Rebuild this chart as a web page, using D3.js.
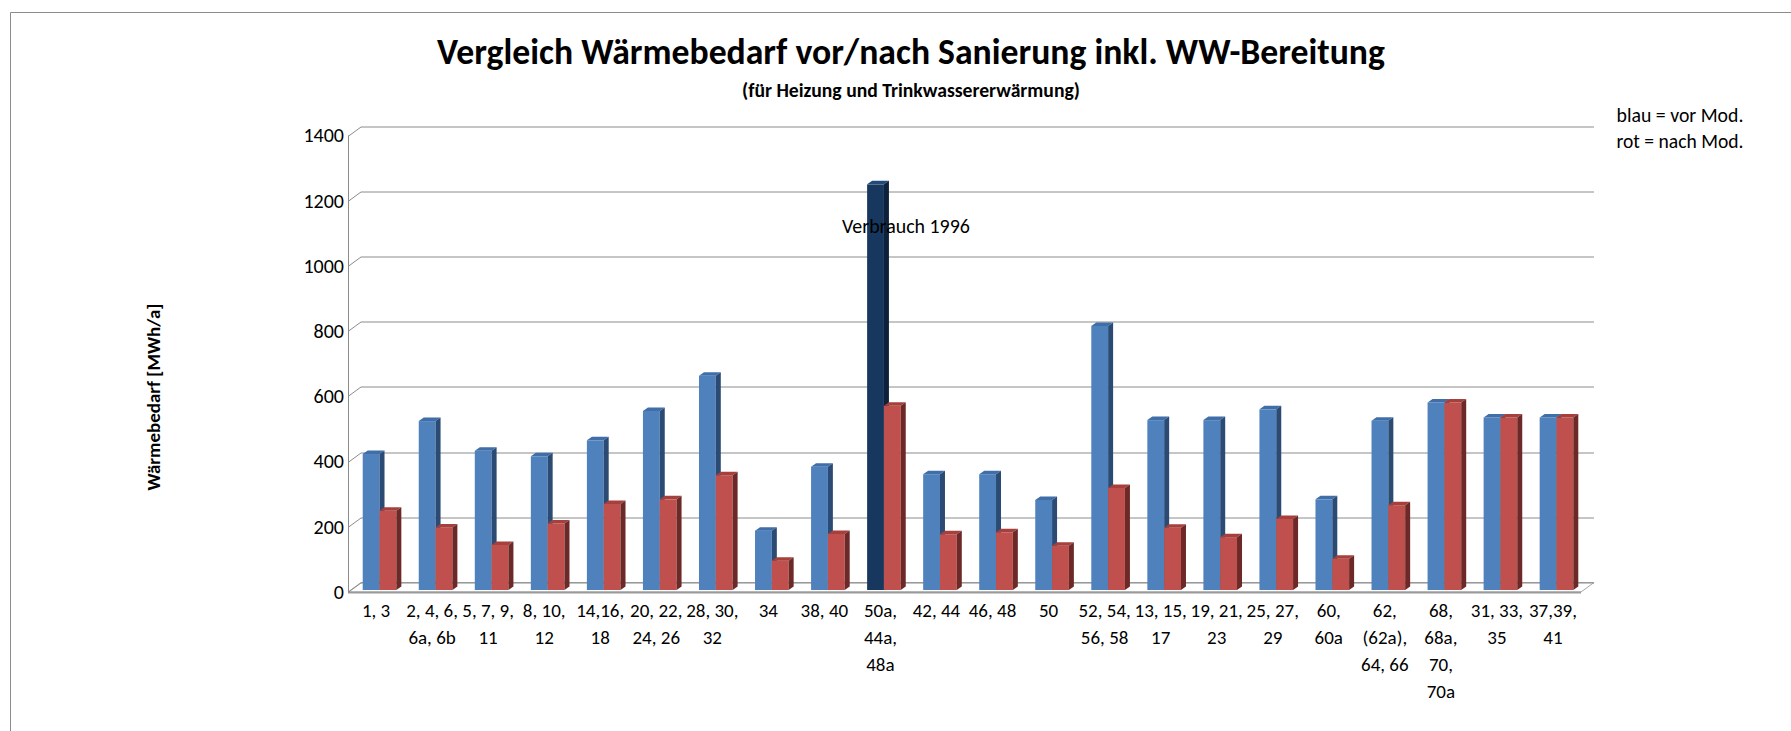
<!DOCTYPE html>
<html>
<head>
<meta charset="utf-8">
<script src="https://cdn.jsdelivr.net/npm/d3@7"></script>
<style>
  html, body { margin: 0; padding: 0; background: #fff; }
  svg { display: block; font-family: Carlito, Lato, sans-serif; }
</style>
</head>
<body>
<svg id="chart" width="1791" height="731"></svg>
<script>
// categories (line breaks as wrapped in the chart)
var categories = [
  "1, 3", "2, 4, 6,\n6a, 6b", "5, 7, 9,\n11", "8, 10,\n12", "14,16,\n18",
  "20, 22,\n24, 26", "28, 30,\n32", "34", "38, 40", "50a,\n44a,\n48a",
  "42, 44", "46, 48", "50", "52, 54,\n56, 58", "13, 15,\n17", "19, 21,\n23",
  "25, 27,\n29", "60,\n60a", "62,\n(62a),\n64, 66", "68,\n68a,\n70,\n70a",
  "31, 33,\n35", "37,39,\n41"
];
var vorMod  = [417, 518, 427, 410, 459, 549, 657, 182, 378, 1244, 355, 355, 276, 810, 521, 521, 554, 278, 519, 575, 529, 529];
var nachMod = [243, 192, 138, 204, 264, 278, 352,  90, 172,  565, 171, 177, 136, 313, 191, 162, 218,  96, 260, 575, 529, 529];
var seriesNames = ["vor", "nach"];
var yTicks = [0, 200, 400, 600, 800, 1000, 1200, 1400];
var highlightIndex = 9;   // "Verbrauch 1996"

var title = "Vergleich Wärmebedarf vor/nach Sanierung inkl. WW-Bereitung",
    subtitle = "(für Heizung und Trinkwassererwärmung)",
    yTitle = "Wärmebedarf [MWh/a]",
    note = "Verbrauch 1996",
    legendLines = ["blau = vor Mod.", "rot = nach Mod."];

var svg = d3.select("#chart");

var plotLeft = 348, plotRight = 1581, plotBottom = 592, plotTop = 135.5;
var depth = {x: 13, y: -9.5},     // floor depth
    barShift = {x: 3.5, y: -2},   // bar front face sits a bit behind the front edge
    barDepth = {x: 5, y: -3.5};

var y = d3.scaleLinear().domain([0, 1400]).range([plotBottom, plotTop]);
var x = d3.scaleBand().domain(d3.range(categories.length))
    .range([plotLeft, plotRight]).paddingInner(0.4).paddingOuter(0.2);
var xs = d3.scaleBand().domain(seriesNames).range([0, x.bandwidth()]);

var colors = {
  vor:  {front: "#4F81BD", top: "#3F6EA8", side: "#2B4B74"},
  nach: {front: "#C0504D", top: "#A6403D", side: "#6C2927"},
  dark: {front: "#17375E", top: "#23497A", side: "#0D213A"}
};

// squeeze/stretch a text to the width it has in the chart
function fit(sel, width) {
  var w = sel.node().getComputedTextLength(),
      fs = +sel.attr("font-size");
  sel.attr("font-size", fs * width / w);
}

// chart frame (only left/top visible)
svg.append("path")
    .attr("d", "M10.5,731V12.5H1791")
    .attr("fill", "none")
    .attr("stroke", "#8c8c8c")
    .attr("stroke-width", 1);

// floor
var floor = svg.append("g");
floor.append("path")
    .attr("d", "M" + plotLeft + "," + plotBottom + "L" + plotRight + "," + plotBottom +
               "L" + (plotRight + depth.x) + "," + (plotBottom + depth.y) +
               "L" + (plotLeft + depth.x) + "," + (plotBottom + depth.y) + "Z")
    .attr("fill", "#fff")
    .attr("stroke", "#a6a6a6")
    .attr("stroke-width", 1);
floor.append("line")
    .attr("x1", plotLeft).attr("x2", plotRight)
    .attr("y1", plotBottom + 0.5).attr("y2", plotBottom + 0.5)
    .attr("stroke", "#9a9a9a")
    .attr("stroke-width", 2);

// grid lines on the back wall + the slanted bits on the side wall
var grid = svg.append("g");
grid.selectAll("path")
    .data(yTicks)
  .enter().append("path")
    .attr("d", function(t) {
      var yf = Math.round(y(t)) + 0.5;
      return "M" + plotLeft + "," + yf + "L" + (plotLeft + depth.x) + "," + (yf + depth.y) +
             "H" + (plotRight + depth.x);
    })
    .attr("fill", "none")
    .attr("stroke", "#8c8c8c")
    .attr("stroke-width", 1);

// value axis
svg.append("line")
    .attr("x1", plotLeft + 0.5).attr("x2", plotLeft + 0.5)
    .attr("y1", y(1400)).attr("y2", plotBottom)
    .attr("stroke", "#8c8c8c");

var yAxis = svg.append("g")
    .attr("transform", "translate(" + plotLeft + ",0)")
    .call(d3.axisLeft(y).tickValues(yTicks).tickSize(0).tickPadding(4).tickFormat(d3.format("d")));
yAxis.select(".domain").remove();
yAxis.selectAll("text")
    .attr("font-family", "Carlito, Lato, sans-serif")
    .attr("font-size", 20)
    .attr("fill", "#000");

// bars
function bar(g, x0, v, w, c) {
  var yb = plotBottom + barShift.y,
      yt = y(v) + barShift.y,
      x1 = x0 + w;
  g.append("rect")
      .attr("x", x0).attr("y", yt)
      .attr("width", w).attr("height", yb - yt)
      .attr("fill", c.front);
  g.append("path")
      .attr("d", "M" + x0 + "," + yt + "L" + x1 + "," + yt +
                 "L" + (x1 + barDepth.x) + "," + (yt + barDepth.y) +
                 "L" + (x0 + barDepth.x) + "," + (yt + barDepth.y) + "Z")
      .attr("fill", c.top);
  g.append("path")
      .attr("d", "M" + x1 + "," + yt + "L" + (x1 + barDepth.x) + "," + (yt + barDepth.y) +
                 "L" + (x1 + barDepth.x) + "," + (yb + barDepth.y) +
                 "L" + x1 + "," + yb + "Z")
      .attr("fill", c.side);
}

var bars = svg.append("g");
categories.forEach(function(cat, i) {
  var g = bars.append("g");
  var x0 = x(i) + barShift.x;
  bar(g, x0 + xs("vor"), vorMod[i], xs.bandwidth(), i === highlightIndex ? colors.dark : colors.vor);
  bar(g, x0 + xs("nach"), nachMod[i], xs.bandwidth(), colors.nach);
});

// category labels
var xLabels = svg.append("g")
    .attr("font-size", 19)
    .attr("text-anchor", "middle")
    .attr("fill", "#000");
xLabels.selectAll("text")
    .data(categories)
  .enter().append("text")
    .attr("transform", function(d, i) {
      return "translate(" + (x(i) + x.bandwidth() / 2) + ",617)";
    })
    .each(function(d) {
      var t = d3.select(this);
      d.split("\n").forEach(function(line, k) {
        t.append("tspan").attr("x", 0).attr("y", k * 27).text(line);
      });
    });

// annotation
svg.append("text")
    .attr("x", 842)
    .attr("y", 233)
    .attr("font-size", 19)
    .attr("fill", "#000")
    .text(note)
    .call(fit, 128);

// titles
svg.append("text")
    .attr("x", 911).attr("y", 64)
    .attr("text-anchor", "middle")
    .attr("font-weight", "bold")
    .attr("font-size", 32)
    .text(title)
    .call(fit, 948);

svg.append("text")
    .attr("x", 911).attr("y", 97)
    .attr("text-anchor", "middle")
    .attr("font-weight", "bold")
    .attr("font-size", 17)
    .text(subtitle)
    .call(fit, 338);

svg.append("text")
    .attr("transform", "translate(160,397) rotate(-90)")
    .attr("text-anchor", "middle")
    .attr("font-weight", "bold")
    .attr("font-size", 18)
    .text(yTitle)
    .call(fit, 187);

// legend note
svg.append("g")
    .attr("text-anchor", "middle")
  .selectAll("text")
    .data(legendLines)
  .enter().append("text")
    .attr("x", 1680)
    .attr("y", function(d, i) { return 122 + i * 25.5; })
    .attr("font-size", 19)
    .text(function(d) { return d; })
    .each(function() { d3.select(this).call(fit, 127); });
</script>
</body>
</html>
